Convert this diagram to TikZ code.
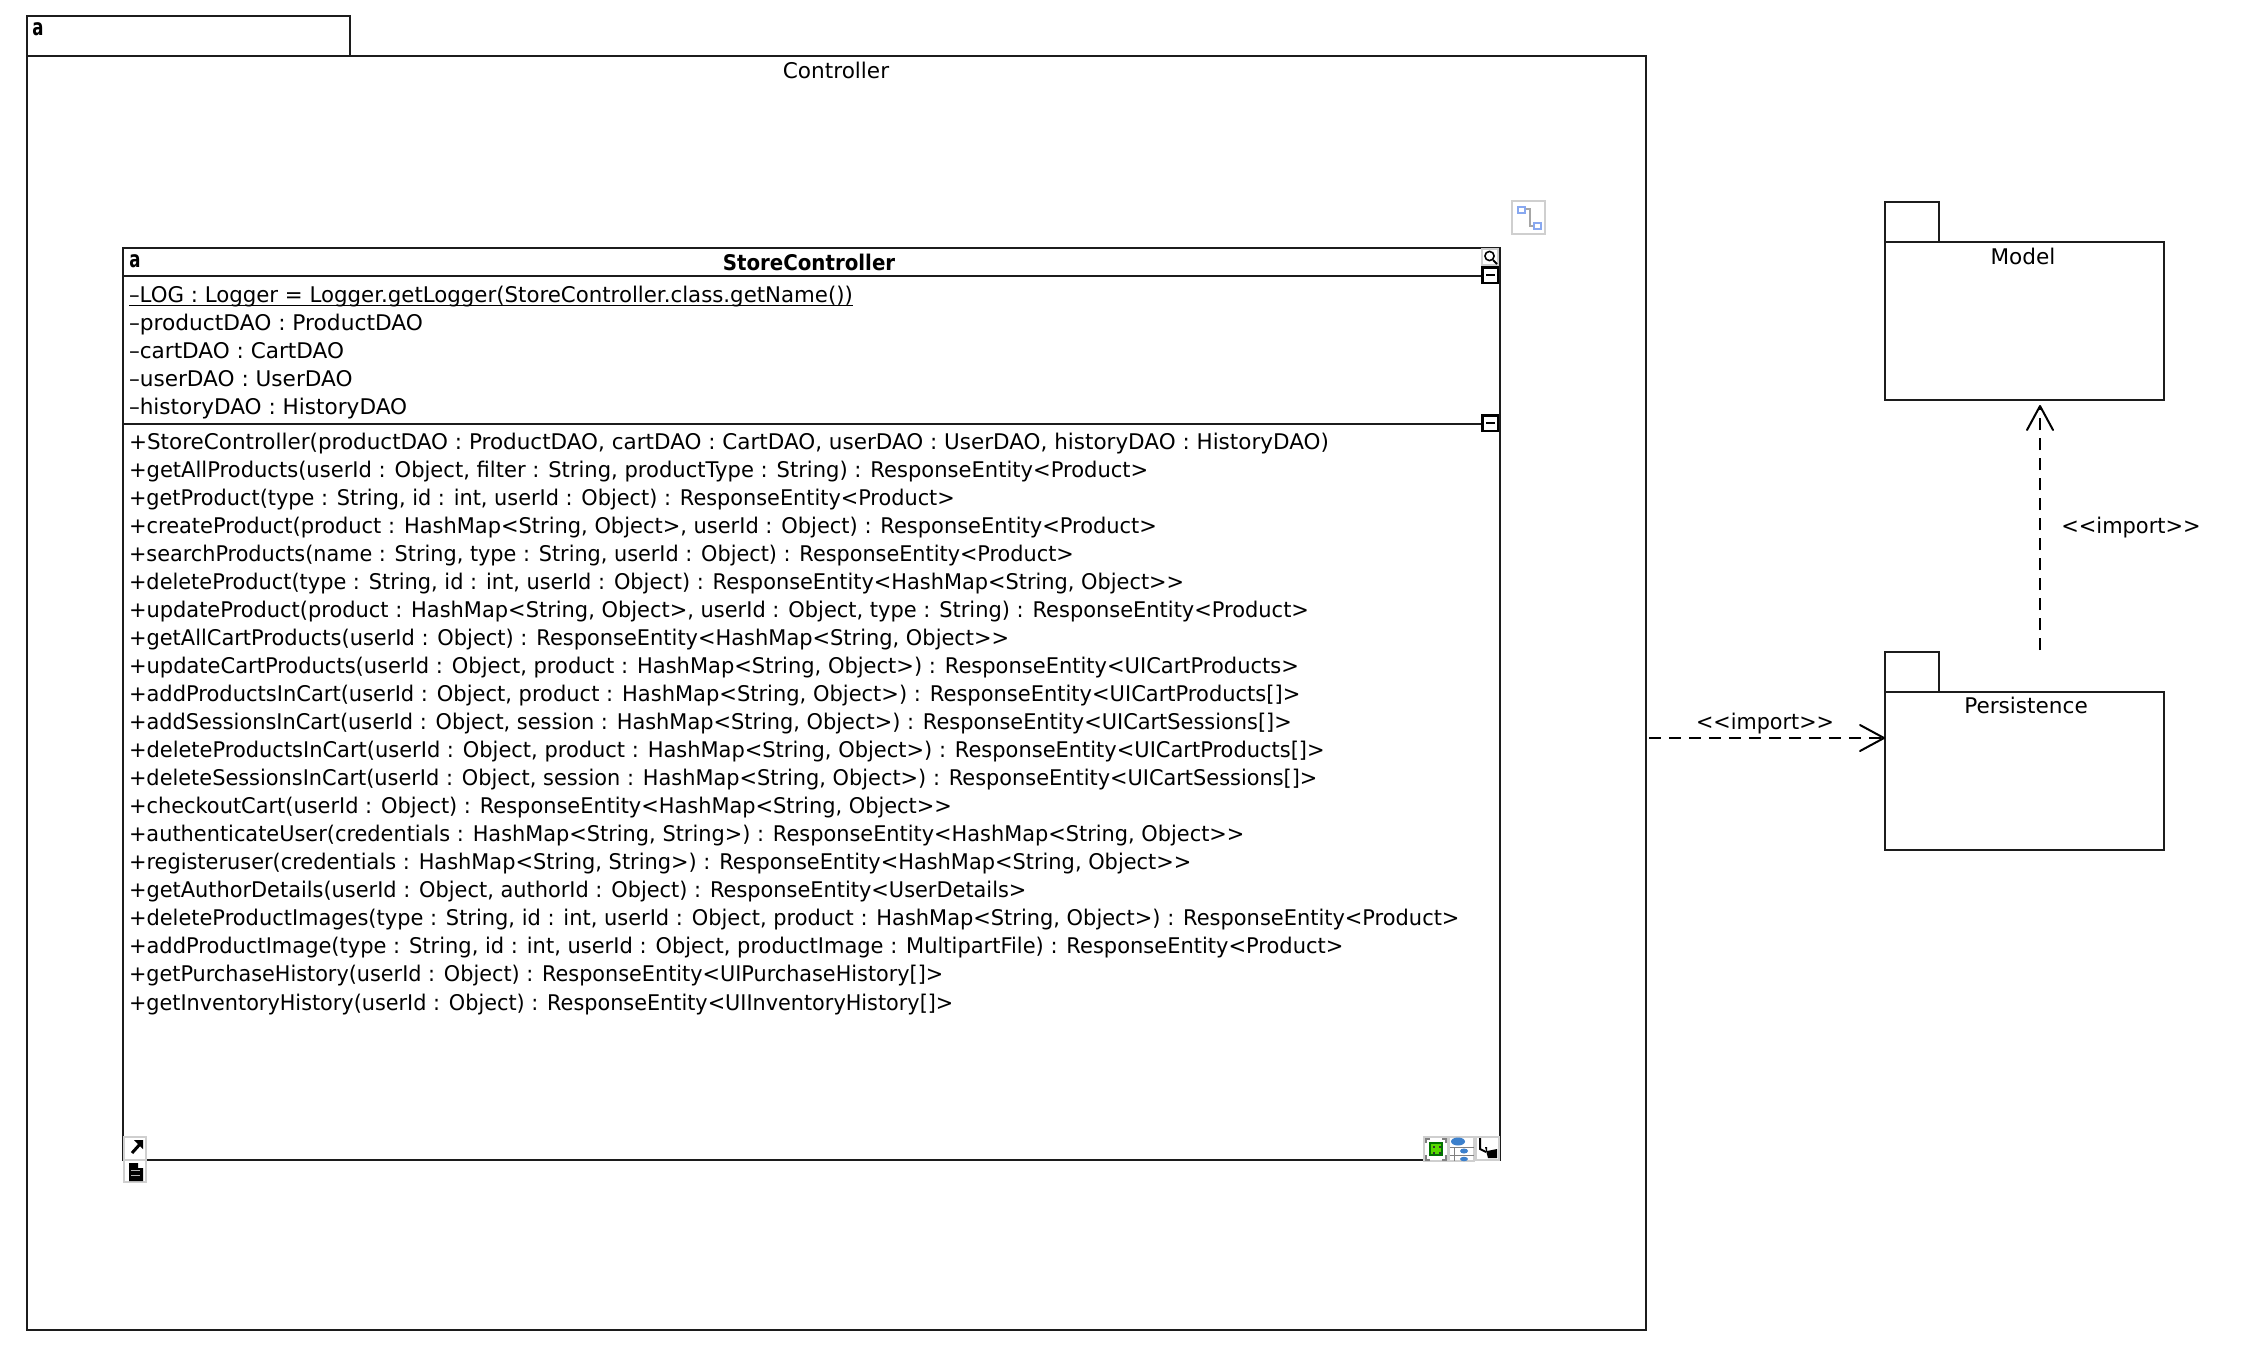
\documentclass[tikz,border=0pt]{standalone}
\usepackage{fontspec}
\usepackage{graphicx}
\usetikzlibrary{arrows.meta}
\newfontfamily\umlfont{DejaVu Sans}
\newfontfamily\memfont{DejaVu Sans}
\definecolor{umlline}{HTML}{1C1C1C}
\definecolor{iconframe}{HTML}{CFCFCF}
\definecolor{iconblue}{HTML}{3C80CC}
\definecolor{iconsq}{HTML}{88A8F0}
\tikzset{
  pkg/.style={draw=umlline,line width=2pt,fill=white,anchor=north west,inner sep=0pt,outer sep=0pt},
  member/.style={anchor=base west,inner sep=0pt,outer sep=0pt,font=\memfont\fontsize{21.6}{24}\selectfont,text=black},
  label/.style={inner sep=0pt,outer sep=0pt,font=\umlfont\fontsize{21.6}{24}\selectfont,text=black},
  pixa/.style={inner sep=0pt,outer sep=0pt,font=\umlfont\bfseries\fontsize{23}{24}\selectfont,text=black},
  dep/.style={draw=black,line width=2pt,dash pattern=on 12pt off 8pt,-{Straight Barb[length=24pt,width=26pt,line width=2pt,round]}},
  frame/.style={draw=iconframe,line width=1.5pt,fill=white},
  minusbox/.style={draw=black,line width=2.5pt,fill=white},
}
% name, baseline y, right end of the line (in units of the reference overview), text
\newcommand\mem[4]{\pgfmathsetlengthmacro\memw{#3*1.4335-129}%
  \node[member] (#1) at (129,#2) {\resizebox{\memw}{\height}{#4}};}
\begin{document}
\begin{tikzpicture}[x=1pt,y=-1pt]
\useasboundingbox (0,0) rectangle (2248,1349);
\fill[white] (0,0) rectangle (2248,1349);
% Controller package
\node[pkg,minimum width=323pt,minimum height=40pt] (ctab) at (27,16) {};
\node[pkg,minimum width=1619pt,minimum height=1274pt] (ctrl) at (27,56) {};
\node[label] (ctrllabel) at (836,70) {Controller};
\node[pixa] (ca) at (38,29) {\scalebox{.72}[1]{a}};
% Model package
\node[pkg,minimum width=54pt,minimum height=40pt] (mtab) at (1885,202) {};
\node[pkg,minimum width=279pt,minimum height=158pt] (model) at (1885,242) {};
\node[label] (modellabel) at (2023,256) {Model};
% Persistence package
\node[pkg,minimum width=54pt,minimum height=40pt] (ptab) at (1885,652) {};
\node[pkg,minimum width=279pt,minimum height=158pt] (persist) at (1885,692) {};
\node[label] (persistlabel) at (2026,705) {Persistence};
% Class
\node[pkg,minimum width=1377pt,minimum height=912pt] (store) at (123,248) {};
\draw[draw=umlline,line width=2pt] (store.north west |- 0,276) -- (store.north east |- 0,276);
\draw[draw=umlline,line width=2pt] (store.north west |- 0,424) -- (store.north east |- 0,424);
\node[pixa] (sa) at (135,261) {\scalebox{.72}[1]{a}};
\node[label,font=\umlfont\bfseries\fontsize{21.6}{24}\selectfont] (storename) at (809,262) {\scalebox{.917}[1]{StoreController}};
% Attributes
\mem{log}{302}{595}{–LOG : Logger = Logger.getLogger(StoreController.class.getName())}
\draw[black,line width=1.6pt] ([yshift=-3.5pt]log.base west) -- ([yshift=-3.5pt]log.base east);
\mem{a1}{330}{295}{–productDAO : ProductDAO}
\mem{a2}{358}{240}{–cartDAO : CartDAO}
\mem{a3}{386}{246}{–userDAO : UserDAO}
\mem{a4}{414}{284}{–historyDAO : HistoryDAO}
% Methods
\mem{m0}{449}{927}{+StoreController(productDAO : ProductDAO, cartDAO : CartDAO, userDAO : UserDAO, historyDAO : HistoryDAO)}
\mem{m1}{477}{801}{+getAllProducts(userId : Object, filter : String, productType : String) : ResponseEntity<Product>}
\mem{m2}{505}{666}{+getProduct(type : String, id : int, userId : Object) : ResponseEntity<Product>}
\mem{m3}{533}{807}{+createProduct(product : HashMap<String, Object>, userId : Object) : ResponseEntity<Product>}
\mem{m4}{561}{749}{+searchProducts(name : String, type : String, userId : Object) : ResponseEntity<Product>}
\mem{m5}{589}{826}{+deleteProduct(type : String, id : int, userId : Object) : ResponseEntity<HashMap<String, Object>>}
\mem{m6}{617}{913}{+updateProduct(product : HashMap<String, Object>, userId : Object, type : String) : ResponseEntity<Product>}
\mem{m7}{645}{704}{+getAllCartProducts(userId : Object) : ResponseEntity<HashMap<String, Object>>}
\mem{m8}{673}{906}{+updateCartProducts(userId : Object, product : HashMap<String, Object>) : ResponseEntity<UICartProducts>}
\mem{m9}{701}{907}{+addProductsInCart(userId : Object, product : HashMap<String, Object>) : ResponseEntity<UICartProducts[]>}
\mem{m10}{729}{901}{+addSessionsInCart(userId : Object, session : HashMap<String, Object>) : ResponseEntity<UICartSessions[]>}
\mem{m11}{757}{924}{+deleteProductsInCart(userId : Object, product : HashMap<String, Object>) : ResponseEntity<UICartProducts[]>}
\mem{m12}{785}{919}{+deleteSessionsInCart(userId : Object, session : HashMap<String, Object>) : ResponseEntity<UICartSessions[]>}
\mem{m13}{813}{664}{+checkoutCart(userId : Object) : ResponseEntity<HashMap<String, Object>>}
\mem{m14}{841}{868}{+authenticateUser(credentials : HashMap<String, String>) : ResponseEntity<HashMap<String, Object>>}
\mem{m15}{869}{831}{+registeruser(credentials : HashMap<String, String>) : ResponseEntity<HashMap<String, Object>>}
\mem{m16}{897}{716}{+getAuthorDetails(userId : Object, authorId : Object) : ResponseEntity<UserDetails>}
\mem{m17}{925}{1018}{+deleteProductImages(type : String, id : int, userId : Object, product : HashMap<String, Object>) : ResponseEntity<Product>}
\mem{m18}{953}{937}{+addProductImage(type : String, id : int, userId : Object, productImage : MultipartFile) : ResponseEntity<Product>}
\mem{m19}{981}{658}{+getPurchaseHistory(userId : Object) : ResponseEntity<UIPurchaseHistory[]>}
\mem{m20}{1010}{665}{+getInventoryHistory(userId : Object) : ResponseEntity<UIInventoryHistory[]>}
% Connectors
\coordinate (impA) at (ctrl.east |- 0,738);
\coordinate (impB) at (persist.west |- 0,738);
\coordinate (impC) at (2040,650);
\coordinate (impD) at (2040,405);
\draw[dep] ([xshift=3pt]impA) -- (impB);
\draw[dep] (impC) -- (impD);
\node[label] (imp1) at (1765,723.5) {\scalebox{.96}[1]{<<import>>}};
\node[label] (imp2) at (2131,528) {\scalebox{.97}[1]{<<import>>}};
% Magnifier icon
\draw[frame] (1482,249) rectangle (1498,265);
\draw[black,line width=1.6pt] (1489.5,256) circle (4.6pt);
\draw[black,line width=2pt] (1493,260) -- (1497,264);
% Compartment toggles
\draw[minusbox] (1482.5,267.5) rectangle (1498,283);
\draw[black,line width=2pt] (1486,275) -- (1495,275);
\draw[minusbox] (1482.5,415.5) rectangle (1498,431);
\draw[black,line width=2pt] (1486,423) -- (1495,423);
% Connector tool icon
\draw[frame,line width=2pt] (1512,201) rectangle (1545,234);
\draw[gray!70,line width=2.4pt] (1525,209) -- (1530,209) -- (1530,226) -- (1533,226);
\draw[iconsq,line width=2pt,fill=white] (1518,207) rectangle (1524.5,213);
\draw[iconsq,line width=2pt,fill=white] (1534,223) rectangle (1540.5,229);
% Bottom-left icons
\draw[frame] (124,1137) rectangle (146,1160);
\draw[black,line width=3pt] (132,1153) -- (141,1143);
\fill[black] (143,1140) -- (143,1149) -- (134,1140) -- cycle;
\draw[frame] (124,1160) rectangle (146,1182);
\fill[black] (129,1163) -- (138,1163) -- (138,1168) -- (143,1168) -- (143,1181) -- (129,1181) -- cycle;
\draw[gray!60,line width=1pt] (131,1170) -- (140,1170) (131,1175) -- (140,1175);
% Bottom-right icons
\draw[frame] (1424,1137) rectangle (1448,1161);
\fill[green!45!black] (1429,1142) rectangle (1443,1156);
\fill[green!60!yellow!85!black] (1431,1144) rectangle (1441,1154);
\foreach \px in {1433,1439}\foreach \py in {1146,1152}{\fill[black!80] (\px,\py) rectangle ++(2,2);}
\draw[gray,line width=2pt] (1425.5,1143) -- (1425.5,1138.5) -- (1430,1138.5);
\draw[gray,line width=2pt] (1446,1143) -- (1446,1138.5) -- (1442,1138.5);
\draw[gray,line width=2pt] (1425.5,1155) -- (1425.5,1159.5) -- (1430,1159.5);
\draw[gray,line width=2pt] (1446,1155) -- (1446,1159.5) -- (1442,1159.5);
\draw[frame] (1449,1137) rectangle (1474,1161);
\draw[gray,line width=1pt] (1450,1147) -- (1474,1147) (1450,1155) -- (1474,1155) (1454,1147) -- (1454,1161);
\fill[iconblue] (1458,1141.5) ellipse (7pt and 4pt);
\fill[iconblue] (1464,1151) ellipse (4pt and 2.5pt);
\fill[iconblue] (1464,1159) ellipse (4pt and 2.2pt);
\draw[frame] (1476,1137) rectangle (1499,1160);
\draw[black,line width=2pt] (1480,1138) -- (1480,1149) -- (1486,1152);
\fill[black] (1485,1147) -- (1487,1147) -- (1487,1151) -- (1497,1149) -- (1497,1158) -- (1488,1158) -- cycle;
\end{tikzpicture}
\end{document}
